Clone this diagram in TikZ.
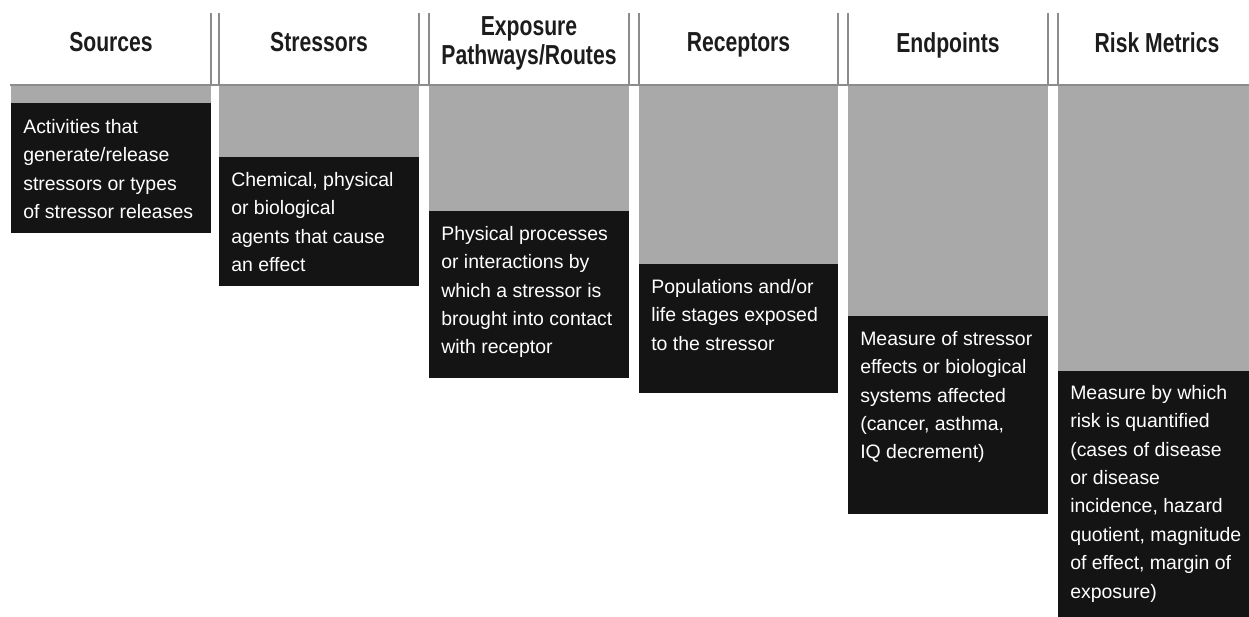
\documentclass[tikz,border=0pt]{standalone}
\usepackage{fontspec}
\newfontfamily\hdfam{Liberation Sans}[FakeStretch=0.77]
\newfontfamily\bodyfam{Liberation Sans}
\definecolor{barg}{HTML}{A9A9A9}
\definecolor{boxk}{HTML}{141414}
\definecolor{rulec}{HTML}{8C8C8C}
\definecolor{hdtext}{HTML}{1C1C1C}
\begin{document}
\begin{tikzpicture}[x=0.75pt,y=-0.75pt,
  hdr/.style={font=\hdfam\bfseries\fontsize{20.6}{21.75}\selectfont, text=hdtext,
              align=center, inner sep=0pt, anchor=north},
  bar/.style={fill=barg},
  blk/.style={fill=boxk},
  txt/.style={font=\bodyfam\fontsize{14.6}{21.3}\selectfont, text=white,
              align=left, inner sep=0pt, anchor=north west},
  sep/.style={draw=rulec, line width=0.8pt}]
\useasboundingbox (0,0) rectangle (1249,617);

% column corners: left, bar top, box top, right, box bottom
\coordinate (b1) at (11,103);
\coordinate (b2) at (219,157);
\coordinate (b3) at (429,211);
\coordinate (b4) at (639,264);
\coordinate (b5) at (848,316);
\coordinate (b6) at (1058,371);

% grey bars above each description
\fill[bar] (11,85)   rectangle (211,103);
\fill[bar] (219,85)  rectangle (419,157);
\fill[bar] (429,85)  rectangle (629,211);
\fill[bar] (639,85)  rectangle (838,264);
\fill[bar] (848,85)  rectangle (1048,316);
\fill[bar] (1058,85) rectangle (1249,371);

% black description boxes
\fill[blk] (b1) rectangle (211,233);
\fill[blk] (b2) rectangle (419,286);
\fill[blk] (b3) rectangle (629,378);
\fill[blk] (b4) rectangle (838,393);
\fill[blk] (b5) rectangle (1048,514);
\fill[blk] (b6) rectangle (1249,617);

% header rules
\draw[sep] (10,85) -- (1249,85);
\foreach \x in {211,219,419,429,629,639,838,848,1048,1058}
  \draw[sep] (\x,13) -- (\x,85);

% headers
\node[hdr] (h1) at (111,32.5)   {Sources};
\node[hdr] (h2) at (319,32.5)   {Stressors};
\node[hdr] (h3) at (529,16.5)   {Exposure\\Pathways/Routes};
\node[hdr] (h4) at (738.5,32.5) {Receptors};
\node[hdr] (h5) at (948,32.5)   {Endpoints};
\node[hdr] (h6) at (1157,32.5)  {Risk Metrics};

% descriptions
\node[txt] (t1) at ([shift={(12,16)}]b1)
  {Activities that\\generate/release\\stressors or types\\of stressor releases};
\node[txt] (t2) at ([shift={(12,15)}]b2)
  {Chemical, physical\\or biological\\agents that cause\\an effect};
\node[txt] (t3) at ([shift={(12,15)}]b3)
  {Physical processes\\or interactions by\\which a stressor is\\brought into contact\\with receptor};
\node[txt] (t4) at ([shift={(12,15)}]b4)
  {Populations and/or\\life stages exposed\\to the stressor};
\node[txt] (t5) at ([shift={(12,15)}]b5)
  {Measure of stressor\\effects or biological\\systems affected\\(cancer, asthma,\\IQ decrement)};
\node[txt] (t6) at ([shift={(12,14)}]b6)
  {Measure by which\\risk is quantified\\(cases of disease\\or disease\\incidence, hazard\\quotient, magnitude\\of effect, margin of\\exposure)};
\end{tikzpicture}
\end{document}
